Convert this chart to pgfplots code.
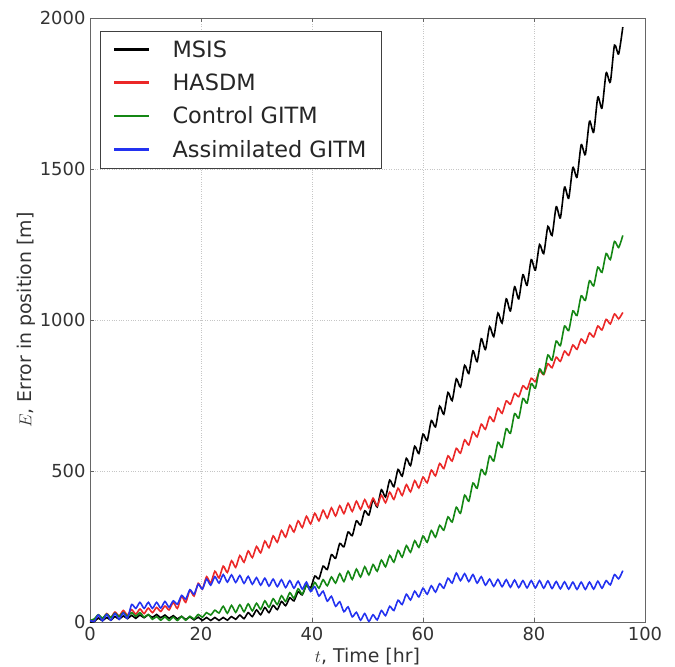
\documentclass[border=0pt]{standalone}
\usepackage{pgfplots}
\pgfplotsset{compat=1.18}
\usepackage{pgfplotstable}
\usepackage{fontspec}
\setmainfont{DejaVu Sans}

% t  MSIS  HASDM  Control  Assimilated
\pgfplotstableread{
t     msis  hasdm ctrl assim
0     0     5     5    5
0.75  1     5     10   2
1.5   13    23    24   23
2.25  4     10    13   4
3     15    28    26   25
3.75  6     15    15   6
4.5   18    33    29   28
5.25  9     20    18   9
6     20    38    31   30
6.75  11    23    19   12
7.5   22    41    31   58
8.25  12    26    19   45
9     23    43    31   65
9.75  14    28    16   45
10.5  24    46    25   65
11.25 15    31    9    45
12    25    48    18   65
12.75 14    35    6    46
13.5  23    53    17   68
14.25 12    40    5    49
15    21    65    16   70
15.75 10    45    5    59
16.5  19    85    18   88
17.25 8     65    6    76
18    17    105   19   107
18.75 7     86    10   92
19.5  16    128   25   125
20.25 5     109   16   109
21    15    150   31   142
21.75 5     129   23   122
22.5  15    168   39   150
23.25 5     146   30   129
24    15    185   52   157
24.75 6     164   29   132
25.5  18    203   55   156
26.25 9     181   32   131
27    23    220   57   154
27.75 11    198   34   128
28.5  31    235   60   151
29.25 18    213   37   125
30    40    250   62   147
30.75 24    229   42   122
31.5  48    268   70   145
32.25 31    246   49   119
33    55    285   77   142
33.75 41    264   58   117
34.5  68    303   87   140
35.25 54    281   68   114
36    80    320   97   137
36.75 70    298   79   112
37.5  100   335   110  135
38.25 90    313   92   109
39    122   350   122  132
39.75 113   325   103  101
40.5  152   360   131  117
41.25 143   335   112  86
42    185   370   140  102
42.75 174   344   120  69
43.5  223   378   149  85
44.25 211   351   129  52
45    260   385   160  67
45.75 249   359   134  34
46.5  298   393   168  50
47.25 286   366   141  17
48    335   400   175  32
48.75 321   373   149  6
49.5  368   405   183  28
50.25 354   378   156  2
51    405   410   190  24
51.75 381   385   168  7
52.5  438   420   205  38
53.25 414   395   183  21
54    470   430   220  52
54.75 448   406   198  38
55.5  505   443   237  72
56.25 483   419   215  58
57    542   455   253  92
57.75 518   431   231  73
58.5  582   468   269  102
59.25 558   444   247  83
60    622   480   285  112
60.75 601   461   264  92
61.5  667   503   303  120
62.25 646   484   281  99
63    715   525   320  127
63.75 688   508   304  112
64.5  760   550   348  145
65.25 733   533   331  129
66    805   575   380  162
66.75 778   559   360  137
67.5  850   603   420  160
68.25 823   586   400  134
69    898   630   460  157
69.75 862   613   443  129
70.5  938   655   505  150
71.25 902   638   488  122
72    978   680   550  142
72.75 945   664   533  118
73.5  1023  708   595  141
74.25 990   691   578  117
75    1070  732   640  140
75.75 1030  721   625  115
76.5  1110  757   690  139
77.25 1070  746   675  114
78    1150  782   740  137
78.75 1115  771   725  113
79.5  1200  807   789  137
80.25 1165  796   774  113
81    1250  832   838  137
81.75 1220  819   821  112
82.5  1310  855   884  136
83.25 1280  842   867  111
84    1375  877   930  134
84.75 1338  863   915  110
85.5  1440  897   980  133
86.25 1403  883   965  109
87    1505  917   1030 132
87.75 1473  903   1015 108
88.5  1580  937   1080 132
89.25 1548  923   1065 108
90    1658  957   1130 132
90.75 1622  944   1113 109
91.5  1738  980   1175 135
92.25 1702  967   1158 112
93    1818  1002  1220 137
93.75 1788  987   1200 123
94.5  1910  1020  1260 157
95.25 1881  1004  1240 143
96    1970  1025  1280 170
}\errdata

\definecolor{mplgreen}{RGB}{20,135,20}
\definecolor{mplred}{RGB}{235,40,40}
\definecolor{mplblue}{RGB}{35,50,240}

\begin{document}
\begin{tikzpicture}
\begin{axis}[
    scale only axis,
    width=555bp, height=604bp,
    xmin=0, xmax=100, ymin=0, ymax=2000,
    xtick={0,20,...,100}, ytick={0,500,...,2000},
    grid=major,
    major grid style={gray!45, dotted, line width=0.6bp},
    axis line style={gray!80!black, line width=0.8bp},
    tick style={gray!80!black, line width=0.6bp},
    major tick length=4bp,
    tick align=inside,
    /pgf/number format/assume math mode=true,
    /pgf/number format/1000 sep={},
    tick label style={font=\fontsize{18}{21}\selectfont, text=black!80},
    xticklabel style={yshift=-2bp},
    yticklabel style={xshift=-1bp},
    xlabel={$t$, Time [hr]},
    ylabel={$E$, Error in position [m]},
    label style={font=\fontsize{19}{22}\selectfont, text=black!80},
    xlabel style={at={(axis description cs:0.5,-0.057)}, anchor=center},
    ylabel style={at={(axis description cs:-0.115,0.5)}, anchor=center},
    legend cell align=left,
    legend image code/.code={%
        \draw[#1] (0bp,0bp) -- (35bp,0bp);
        \path (55bp,0bp);},
    legend style={
        at={(axis description cs:0.018,0.978)}, anchor=north west,
        font=\fontsize{22.5}{26}\selectfont,
        text=black!85,
        draw=black!75,
        inner xsep=13bp, inner ysep=7bp,
        row sep=11bp,
    },
]
\addlegendimage{black, line width=2.4bp}
\addlegendentry{MSIS}
\addlegendimage{mplred, line width=2.4bp}
\addlegendentry{HASDM}
\addlegendimage{mplgreen, line width=2.4bp}
\addlegendentry{Control GITM}
\addlegendimage{mplblue, line width=2.4bp}
\addlegendentry{Assimilated GITM}

\addplot[forget plot, black, line width=1.6bp, smooth, tension=0.4] table[x=t, y=msis] {\errdata};
\addplot[forget plot, mplred, line width=1.6bp, smooth, tension=0.4] table[x=t, y=hasdm] {\errdata};
\addplot[forget plot, mplgreen, line width=1.6bp, smooth, tension=0.4] table[x=t, y=ctrl] {\errdata};
\addplot[forget plot, mplblue, line width=1.6bp, smooth, tension=0.4] table[x=t, y=assim] {\errdata};
\end{axis}
\pgfresetboundingbox
\path[use as bounding box] ([xshift=-90bp,yshift=-45bp]current axis.south west)
    rectangle ([xshift=30bp,yshift=18bp]current axis.north east);
\end{tikzpicture}
\end{document}
